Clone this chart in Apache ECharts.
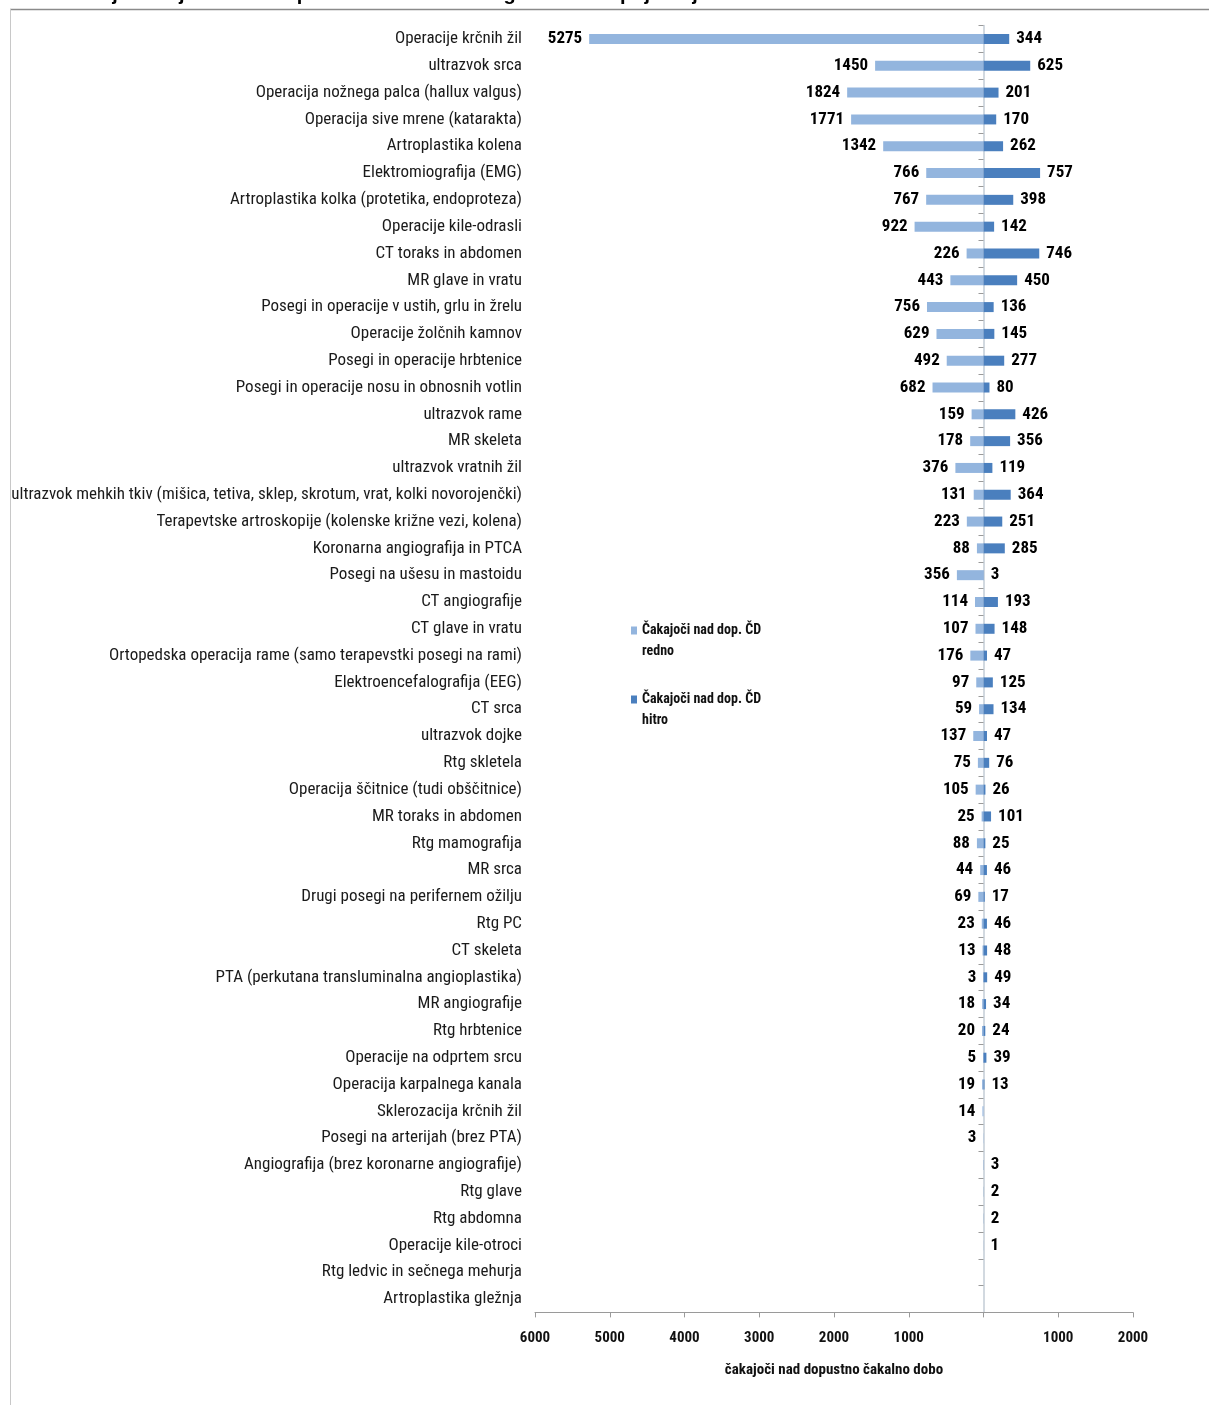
<!DOCTYPE html>
<html><head><meta charset="utf-8">
<script src="https://cdn.jsdelivr.net/npm/echarts@6/dist/echarts.min.js"></script>
<style>html,body{margin:0;padding:0;background:#fff}#c{width:1209px;height:1405px}</style>
</head><body><div id="c"></div>
<script>
const categories = [
  'Operacije krčnih žil',
  'ultrazvok srca',
  'Operacija nožnega palca (hallux valgus)',
  'Operacija sive mrene (katarakta)',
  'Artroplastika kolena',
  'Elektromiografija (EMG)',
  'Artroplastika kolka (protetika, endoproteza)',
  'Operacije kile-odrasli',
  'CT toraks in abdomen',
  'MR glave in vratu',
  'Posegi in operacije v ustih, grlu in žrelu',
  'Operacije žolčnih kamnov',
  'Posegi in operacije hrbtenice',
  'Posegi in operacije nosu in obnosnih votlin',
  'ultrazvok rame',
  'MR skeleta',
  'ultrazvok vratnih žil',
  'ultrazvok mehkih tkiv (mišica, tetiva, sklep, skrotum, vrat, kolki novorojenčki)',
  'Terapevtske artroskopije (kolenske križne vezi, kolena)',
  'Koronarna angiografija in PTCA',
  'Posegi na ušesu in mastoidu',
  'CT angiografije',
  'CT glave in vratu',
  'Ortopedska operacija rame (samo terapevstki posegi na rami)',
  'Elektroencefalografija (EEG)',
  'CT srca',
  'ultrazvok dojke',
  'Rtg skletela',
  'Operacija ščitnice (tudi obščitnice)',
  'MR toraks in abdomen',
  'Rtg mamografija',
  'MR srca',
  'Drugi posegi na perifernem ožilju',
  'Rtg PC',
  'CT skeleta',
  'PTA (perkutana transluminalna angioplastika)',
  'MR angiografije',
  'Rtg hrbtenice',
  'Operacije na odprtem srcu',
  'Operacija karpalnega kanala',
  'Sklerozacija krčnih žil',
  'Posegi na arterijah (brez PTA)',
  'Angiografija (brez koronarne angiografije)',
  'Rtg glave',
  'Rtg abdomna',
  'Operacije kile-otroci',
  'Rtg ledvic in sečnega mehurja',
  'Artroplastika gležnja'
];
const rednoValues = [5275,1450,1824,1771,1342,766,767,922,226,443,756,629,492,682,159,178,376,131,223,88,356,114,107,176,97,59,137,75,105,25,88,44,69,23,13,3,18,20,5,19,14,3,0,0,0,0,0,0];
const hitroValues = [344,625,201,170,262,757,398,142,746,450,136,145,277,80,426,356,119,364,251,285,3,193,148,47,125,134,47,76,26,101,25,46,17,46,48,49,34,24,39,13,0,0,3,2,2,1,0,0];
const seriesNames = ['Čakajoči nad dop. ČD redno', 'Čakajoči nad dop. ČD hitro'];
const legendLines = {
  'Čakajoči nad dop. ČD redno': ['Čakajoči nad dop. ČD', 'redno'],
  'Čakajoči nad dop. ČD hitro': ['Čakajoči nad dop. ČD', 'hitro']
};
const axisTitle = 'čakajoči nad dopustno čakalno dobo';
const chartTitle = 'Slika: Stanje čakajočih nad dopustno čakalno dobo glede na stopnjo nujnosti';

const NARROW = "'Liberation Sans Narrow', 'Arial Narrow', 'Roboto Condensed', sans-serif";
const chart = echarts.init(document.getElementById('c'), null, {renderer: 'canvas'});
const valLabel = (p) => { const v = Math.abs(p.value); return v ? String(v) : ''; };

chart.setOption({
  animation: false,
  backgroundColor: '#fff',
  textStyle: {fontFamily: NARROW},
  graphic: [
    {type: 'line', shape: {x1: 10, y1: 9.5, x2: 1209, y2: 9.5}, style: {stroke: '#8a8a8a', lineWidth: 1.5}},
    {type: 'line', shape: {x1: 10.5, y1: 9, x2: 10.5, y2: 1405}, style: {stroke: '#c8c8c8', lineWidth: 1}},
    {type: 'text', left: 10, top: -16, style: {text: chartTitle, font: "bold 20px 'Liberation Sans', Arial, sans-serif", fill: '#000'}}
  ],
  legend: {
    orient: 'vertical',
    left: 631,
    top: 599,
    padding: 0,
    itemWidth: 6,
    itemHeight: 8,
    itemGap: 6,
    icon: 'rect',
    data: seriesNames,
    formatter: (n) => '{e| }\n{a|' + legendLines[n][0] + '}\n{a|' + legendLines[n][1] + '}',
    textStyle: {
      fontFamily: NARROW, fontWeight: 'bold', fontSize: 14, color: '#111', lineHeight: 21,
      rich: {
        e: {fontSize: 14, lineHeight: 21},
        a: {fontFamily: NARROW, fontWeight: 'bold', fontSize: 14, color: '#111', lineHeight: 21}
      }
    },
    selectedMode: false
  },
  grid: {left: 535, right: 76, top: 25.6, bottom: 92.6, containLabel: false},
  xAxis: {
    type: 'value', min: -6000, max: 2000, interval: 1000,
    name: axisTitle, nameLocation: 'middle', nameGap: 50,
    nameTextStyle: {fontFamily: NARROW, fontWeight: 'bold', fontSize: 15, color: '#111'},
    axisLine: {show: true, lineStyle: {color: '#9a9a9a', width: 1}},
    axisTick: {show: true, length: 5, lineStyle: {color: '#9a9a9a'}},
    splitLine: {show: false},
    axisLabel: {margin: 18, fontFamily: NARROW, fontWeight: 'bold', fontSize: 15, color: '#111',
      formatter: (v) => v === 0 ? '' : String(Math.abs(v))}
  },
  yAxis: [
    {
      type: 'category', data: categories, inverse: true, position: 'left',
      axisLine: {show: false, onZero: false}, axisTick: {show: false},
      axisLabel: {margin: 13, fontFamily: NARROW, fontSize: 17, color: '#1a1a1a'}
    },
    {
      type: 'category', data: categories, inverse: true, position: 'right',
      axisLine: {show: true, onZero: true, lineStyle: {color: '#c3ccd6', width: 1.5}},
      axisTick: {show: true, inside: true, length: 5, lineStyle: {color: '#9a9a9a'}},
      axisLabel: {show: false}
    }
  ],
  series: [
    {
      name: seriesNames[0], type: 'bar', yAxisIndex: 0, barWidth: 10, barGap: '-100%',
      itemStyle: {color: '#93b5de'},
      data: rednoValues.map(v => v ? -v : null),
      label: {show: true, position: 'left', distance: 7, fontFamily: NARROW, fontWeight: 'bold', fontSize: 17, color: '#000', formatter: valLabel}
    },
    {
      name: seriesNames[1], type: 'bar', yAxisIndex: 0, barWidth: 10, barGap: '-100%',
      itemStyle: {color: '#4a7fbe'},
      data: hitroValues.map(v => v ? v : null),
      label: {show: true, position: 'right', distance: 7, fontFamily: NARROW, fontWeight: 'bold', fontSize: 17, color: '#000', formatter: valLabel}
    }
  ]
});
</script></body></html>
